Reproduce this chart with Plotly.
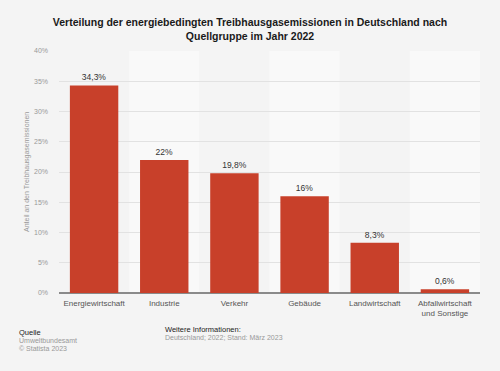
import plotly.graph_objects as go

categories = ["Energiewirtschaft", "Industrie", "Verkehr", "Gebäude", "Landwirtschaft", "Abfallwirtschaft<br>und Sonstige"]
values = [34.3, 22.0, 19.8, 16.0, 8.3, 0.6]
y_ticks = [0, 5, 10, 15, 20, 25, 30, 35, 40]
y_tick_labels = [f"{t}%" for t in y_ticks]

W, H = 500, 371
L, R, T, B = 59, 20, 51, 78
pw = W - L - R
ph = H - T - B

def px_x(p):
    return (p - L) / pw

def px_y(p):
    return (H - B - p) / ph

labels = [("%g" % v).replace(".", ",") + "%" for v in values]
xs = list(range(len(categories)))

fig = go.Figure()
fig.add_trace(go.Bar(
    x=xs, y=values, text=labels, textposition="outside",
    textfont=dict(family="Liberation Sans", size=8.5, color="#333333"),
    marker=dict(color="#c8402a", line=dict(width=0)),
    cliponaxis=False, width=0.69, hoverinfo="skip",
))

shapes = []
for i in xs:
    if i % 2 == 1:
        shapes.append(dict(type="rect", xref="x", yref="paper", x0=i - 0.5, x1=i + 0.5,
                           y0=0, y1=1, fillcolor="#f9f9f9", line=dict(width=0), layer="below"))

font = "Liberation Sans"
ann = [
    dict(text="Anteil an den Treibhausgasemissionen", x=px_x(27), y=0.5, xref="paper", yref="paper",
         xanchor="center", yanchor="middle",
         textangle=-90, showarrow=False, font=dict(family=font, size=7, color="#999999")),
    dict(text="Quelle", x=px_x(17), y=px_y(332), xref="paper", yref="paper", xanchor="left",
         yanchor="middle", showarrow=False, font=dict(family=font, size=7.5, color="#222222")),
    dict(text="Umweltbundesamt", x=px_x(17), y=px_y(340), xref="paper", yref="paper", xanchor="left",
         yanchor="middle", showarrow=False, font=dict(family=font, size=7, color="#999999")),
    dict(text="© Statista 2023", x=px_x(17), y=px_y(348), xref="paper", yref="paper", xanchor="left",
         yanchor="middle", showarrow=False, font=dict(family=font, size=7, color="#999999")),
    dict(text="Weitere Informationen:", x=px_x(163), y=px_y(329), xref="paper", yref="paper", xanchor="left",
         yanchor="middle", showarrow=False, font=dict(family=font, size=7.5, color="#222222")),
    dict(text="Deutschland; 2022; Stand: März 2023", x=px_x(163), y=px_y(337), xref="paper", yref="paper",
         xanchor="left", yanchor="middle", showarrow=False, font=dict(family=font, size=7, color="#999999")),
]

fig.update_layout(
    width=W, height=H,
    margin=dict(l=L, r=R, t=T, b=B, pad=0, autoexpand=False),
    paper_bgcolor="#f4f4f4", plot_bgcolor="#f4f4f4",
    showlegend=False,
    title=dict(text="<b>Verteilung der energiebedingten Treibhausgasemissionen in Deutschland nach<br>Quellgruppe im Jahr 2022</b>",
               x=0.5, xref="container", xanchor="center", y=1 - 26 / H, yref="container", yanchor="middle",
               font=dict(family=font, size=10.5, color="#1a1a1a")),
    xaxis=dict(tickvals=xs, ticktext=categories, range=[-0.5, len(categories) - 0.5],
               showgrid=False, zeroline=False, showline=False, ticks="", automargin=False,
               ticklabelstandoff=4,
               tickfont=dict(family=font, size=8, color="#555555")),
    yaxis=dict(range=[0, 40], tickvals=y_ticks, ticktext=y_tick_labels, showgrid=True,
               gridcolor="#e2e2e2", gridwidth=1, zeroline=True, zerolinecolor="#8a8a8a", zerolinewidth=2,
               showline=False, ticks="", ticklabelstandoff=10, automargin=False,
               tickfont=dict(family=font, size=7, color="#999999")),
    shapes=shapes, annotations=ann, bargap=0.31,
)

fig.write_html("out.html", config={"displayModeBar": False},
               post_script="document.body.style.margin='0px';document.body.style.background='#f4f4f4';")
